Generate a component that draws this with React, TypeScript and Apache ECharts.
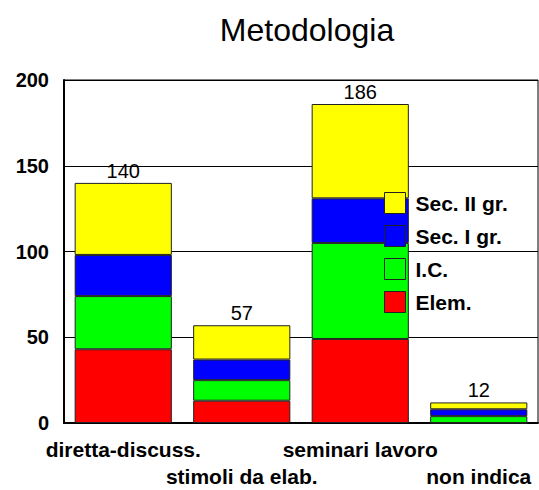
import React, { useEffect, useRef } from "react";
import * as echarts from "echarts";

const categories = ["diretta-discuss.", "stimoli da elab.", "seminari lavoro", "non indica"];
const elem = [43, 13, 49, 0];
const ic = [31, 12, 56, 4];
const secI = [24, 12, 26, 4];
const secII = [42, 20, 55, 4];
const totals = [140, 57, 186, 12];
const yTicks = [0, 50, 100, 150, 200];

const FONT = "'Liberation Sans', Arial, sans-serif";

export default function App() {
  const ref = useRef<HTMLDivElement>(null);

  useEffect(() => {
    if (!ref.current) return;
    const chart = echarts.init(ref.current, null, { renderer: "svg" });
    const barBorder = { borderColor: "#222", borderWidth: 1 };
    const mk = (name: string, data: number[], color: string, extra: any = {}) => ({
      name,
      type: "bar",
      stack: "tot",
      data,
      barWidth: "82%",
      itemStyle: { color, ...barBorder },
      ...extra,
    });
    chart.setOption({
      animation: false,
      backgroundColor: "#fff",
      textStyle: { fontFamily: FONT },
      title: {
        text: "Metodologia",
        left: 302,
        textAlign: "center",
        top: 9,
        textStyle: { fontFamily: FONT, fontSize: 32, fontWeight: "normal", color: "#000" },
      },
      legend: {
        orient: "vertical",
        left: 384,
        top: 192,
        padding: 0,
        itemWidth: 21,
        itemHeight: 21,
        itemGap: 11,
        icon: "rect",
        data: ["Sec. II gr.", "Sec. I gr.", "I.C.", "Elem."],
        itemStyle: { borderColor: "#222", borderWidth: 1 },
        textStyle: {
          fontFamily: FONT,
          fontSize: 21,
          lineHeight: 21,
          fontWeight: "bold",
          color: "#000",
          padding: [0, 0, 0, 5],
        },
      },
      grid: {
        left: 64,
        right: 1,
        top: 80,
        bottom: 66,
        show: true,
        borderColor: "#000",
        borderWidth: 1,
      },
      xAxis: {
        type: "category",
        data: categories,
        axisLine: { lineStyle: { color: "#000", width: 2 } },
        axisTick: { show: false },
        axisLabel: {
          interval: 0,
          margin: 13,
          lineHeight: 27,
          fontFamily: FONT,
          fontSize: 21,
          fontWeight: "bold",
          color: "#000",
          formatter: (v: string, i: number) => (i % 2 === 1 ? "\n" + v : v),
        },
      },
      yAxis: {
        type: "value",
        min: yTicks[0],
        max: yTicks[yTicks.length - 1],
        interval: 50,
        axisLine: { show: true, lineStyle: { color: "#000", width: 2 } },
        axisTick: { show: false },
        splitLine: { lineStyle: { color: "#000", width: 1 } },
        axisLabel: {
          margin: 15,
          fontFamily: FONT,
          fontSize: 20,
          fontWeight: "bold",
          color: "#000",
        },
      },
      series: [
        mk("Elem.", elem, "#ff0000"),
        mk("I.C.", ic, "#00ff00"),
        mk("Sec. I gr.", secI, "#0000ff"),
        mk("Sec. II gr.", secII, "#ffff00", {
          label: {
            show: true,
            position: "top",
            distance: 2,
            fontFamily: FONT,
            fontSize: 20,
            color: "#000",
            formatter: (p: any) => String(totals[p.dataIndex]),
          },
        }),
      ],
    });
    return () => chart.dispose();
  }, []);

  return (
    <div
      ref={ref}
      style={{ position: "fixed", left: 0, top: 0, width: 539, height: 490, background: "#fff" }}
    />
  );
}
